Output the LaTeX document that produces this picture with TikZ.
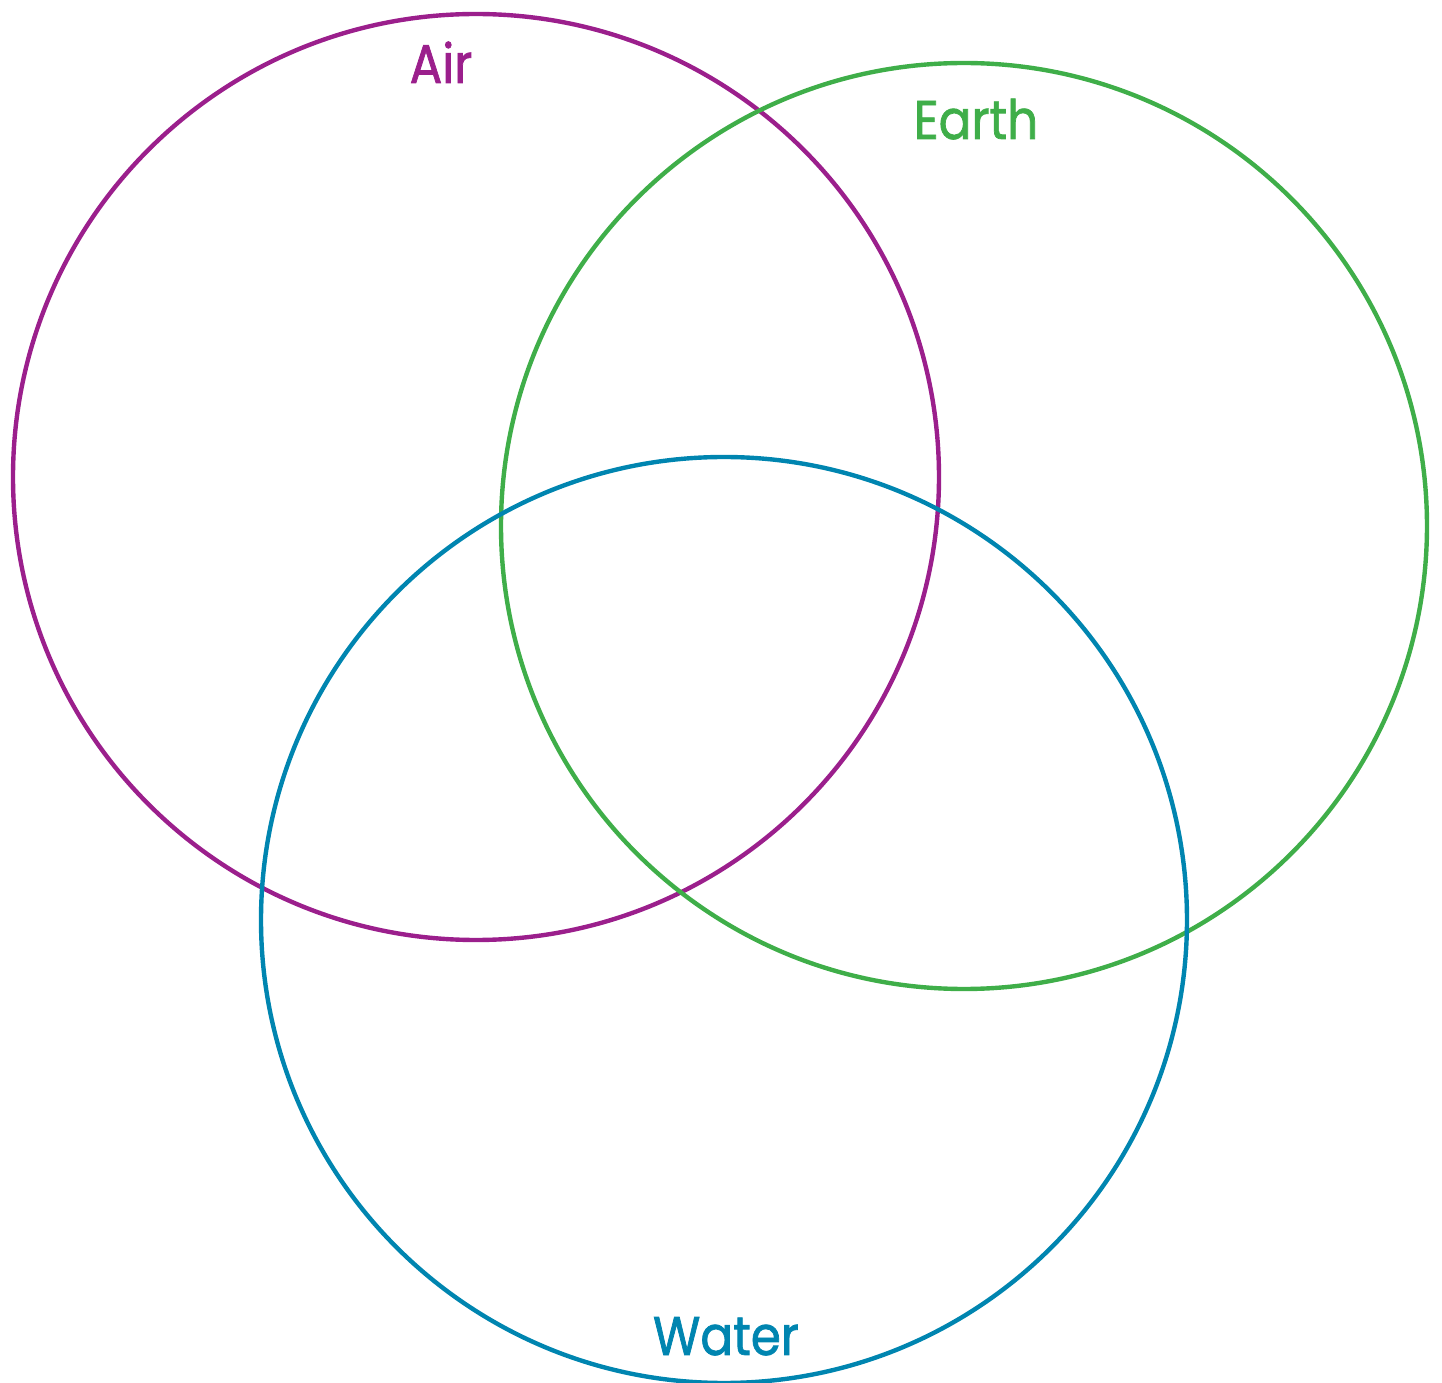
\documentclass[tikz,border=0pt]{standalone}
\usepackage{fontspec}
\setmainfont{Poppins}[FakeBold=1.3,FakeStretch=0.89]
\definecolor{airpurple}{RGB}{155,31,140}
\definecolor{earthgreen}{RGB}{63,174,73}
\definecolor{waterblue}{RGB}{0,133,176}
\tikzset{
  ring/.style={circle,draw=#1,line width=1.25pt,minimum size=9.26cm,inner sep=0pt},
  setlabel/.style={text=#1,font=\fontsize{15.5}{18}\selectfont,anchor=base,inner sep=0pt}
}
\begin{document}
\begin{tikzpicture}
  \useasboundingbox (0,0) rectangle (14.42,-13.83);
  % the three sets
  \foreach \nname/\col/\px/\py in {air/airpurple/4.76/4.77,
      earth/earthgreen/9.64/5.26,water/waterblue/7.24/9.20}{
    \node[ring=\col] (\nname) at (\px,-\py) {};
  }
  % set names
  \node[setlabel=airpurple] (airlabel) at (4.41,-0.83) {Air};
  \node[setlabel=earthgreen] (earthlabel) at (9.76,-1.39) {Earth};
  \node[setlabel=waterblue] (waterlabel) at (7.26,-13.55) {Water};
\end{tikzpicture}
\end{document}
